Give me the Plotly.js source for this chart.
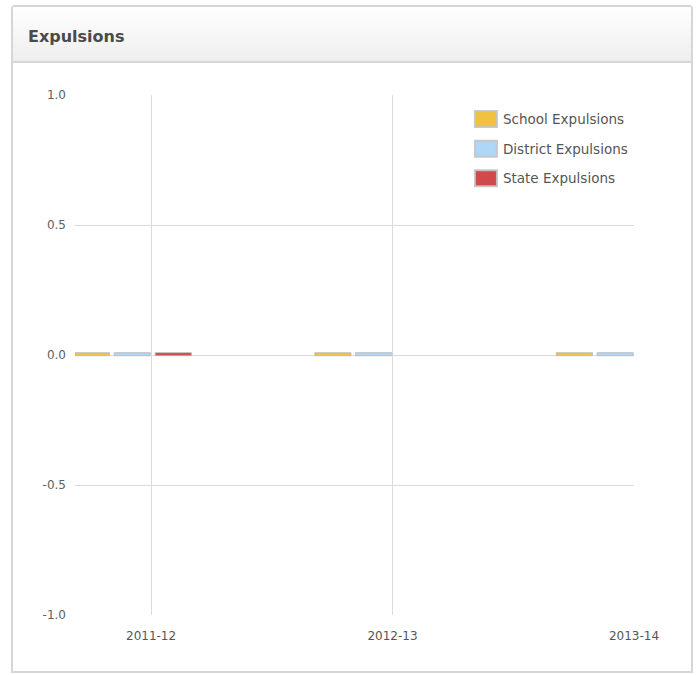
<!DOCTYPE html>
<html>
<head>
<meta charset="utf-8">
<script src="https://cdn.plot.ly/plotly-3.0.1.min.js"></script>
<style>
  html, body { margin: 0; padding: 0; background: #fff; width: 696px; height: 675px; overflow: hidden; }
  #panel { position: absolute; left: 11px; top: 5px; width: 678px; height: 664px;
           border: 2px solid #d6d6d6; border-radius: 4px 4px 0 0; background: #fff; }
  #header { height: 56px; border-bottom: 2px solid #d6d6d6;
            background: linear-gradient(#ffffff, #eeeeee);
            font-family: "DejaVu Sans", Verdana, sans-serif; font-weight: bold; font-size: 16px;
            color: #4a4a4a; line-height: 60px; padding-left: 15px; box-sizing: border-box; }
  #chart { position: absolute; left: 0; top: 0; width: 696px; height: 675px; }
</style>
</head>
<body>
<div id="panel"><div id="header">Expulsions</div></div>
<div id="chart"></div>
<script>
const categories = ['2011-12', '2012-13', '2013-14'];
const schoolExpulsions = [0, 0, 0];
const districtExpulsions = [0, 0, 0];
const stateExpulsions = [0, null, null];
const seriesNames = ['School Expulsions', 'District Expulsions', 'State Expulsions'];
const seriesColors = ['#efc23f', '#aed6f7', '#cf4a4a'];
const yTickValues = [-1, -0.5, 0, 0.5, 1];
const yTickLabels = ['-1.0', '-0.5', '0.0', '0.5', '1.0'];

// minimum visible bar length for zero values (like a minPointLength option)
const MIN_LEN = 0.012;
const vis = v => (v === null ? null : (v === 0 ? MIN_LEN : v));

const offsets = [-0.322, -0.153, 0.017];
const barWidth = 0.15;

const allSeries = [schoolExpulsions, districtExpulsions, stateExpulsions];
const traces = allSeries.map((vals, i) => ({
  type: 'bar',
  name: seriesNames[i],
  x: categories,
  y: vals.map(vis),
  base: vals.map(v => (v === 0 ? -0.003 : 0)),
  customdata: vals,
  offset: offsets[i],
  width: barWidth,
  legendgroup: 'g' + i,
  marker: { color: seriesColors[i], line: { color: 'rgba(190,190,190,0.9)', width: 1 } },
  hoverinfo: 'skip'
}));

const layout = {
  width: 696, height: 675,
  margin: { l: 75, r: 62, t: 95, b: 60 },
  paper_bgcolor: 'rgba(0,0,0,0)',
  plot_bgcolor: 'rgba(0,0,0,0)',
  barmode: 'overlay',
  font: { family: '"DejaVu Sans", Verdana, sans-serif', size: 12, color: '#555' },
  showlegend: true,
  legend: {
    x: 0.694, xanchor: 'left', y: 0.983, yanchor: 'top',
    bgcolor: 'rgba(255,255,255,0)', tracegroupgap: 9,
    font: { size: 13.5, color: '#555' }, itemclick: false, itemdoubleclick: false
  },
  xaxis: {
    type: 'category', range: [-0.315, 2],
    showgrid: true, gridcolor: '#dadada', gridwidth: 1,
    showline: false, zeroline: false, ticks: '',
    ticklabelstandoff: 12,
    tickfont: { size: 12, color: '#555' }
  },
  yaxis: {
    range: [-1, 1], tickmode: 'array', tickvals: yTickValues, ticktext: yTickLabels,
    showgrid: true, gridcolor: '#dadada', gridwidth: 1,
    zeroline: true, zerolinecolor: '#dadada', zerolinewidth: 1,
    showline: false, ticks: '', ticklabelstandoff: 8,
    tickfont: { size: 12, color: '#606060' }
  }
};

function fixLegend() {
  document.querySelectorAll('#chart .legend .legendpoints path').forEach(p => {
    p.setAttribute('d', 'M14,8H-8V-8H14Z');
    p.style.strokeWidth = '2px';
    p.style.stroke = '#c4c4c4';
  });
}

Plotly.newPlot('chart', traces, layout, { staticPlot: true, displayModeBar: false }).then(gd => {
  fixLegend();
  gd.on('plotly_afterplot', fixLegend);
});
</script>
</body>
</html>
